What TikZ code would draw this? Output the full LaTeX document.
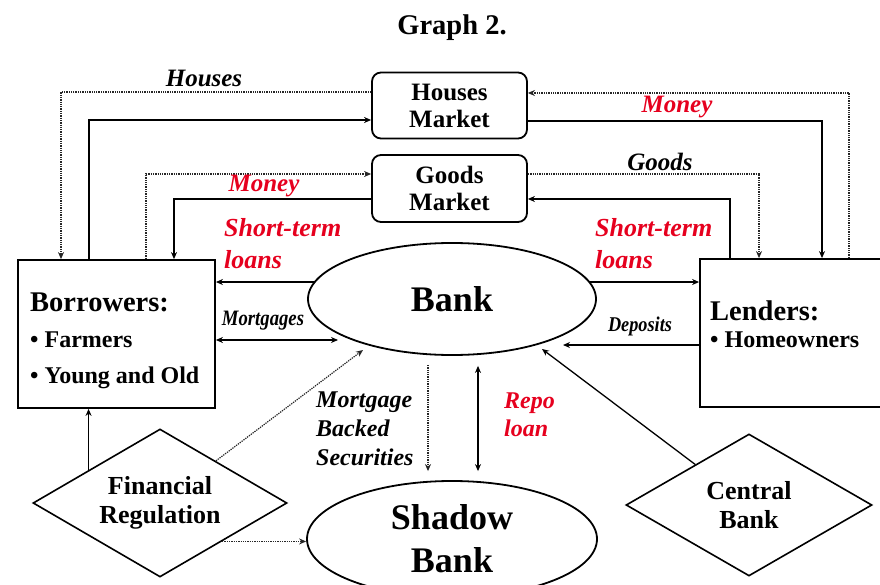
\documentclass[tikz,border=0pt]{standalone}
\usepackage{fontspec}
\usepackage{graphicx}
\setmainfont{Liberation Serif}
\usetikzlibrary{arrows.meta,shapes.geometric,calc}
\definecolor{lblred}{RGB}{230,0,30}
\newcommand{\fsz}[2]{\fontsize{#1}{#2}\selectfont}
\begin{document}
\begin{tikzpicture}[x=1pt,y=-1pt,
  box/.style={draw,line width=1.8pt,inner sep=0pt},
  mkt/.style={box,rounded corners=9pt,minimum width=155pt,minimum height=66pt,align=center,font=\bfseries\fsz{25}{27}},
  oval/.style={draw,line width=1.8pt,ellipse,inner sep=0pt,align=center,font=\bfseries\fsz{36}{43}},
  dia/.style={draw,line width=1.6pt,diamond,inner sep=0pt,aspect=1.7,align=center,font=\bfseries\fsz{26}{29}},
  conn/.style={line width=1.3pt,-{Stealth[length=7pt,width=6pt]}},
  dconn/.style={line width=1.3pt,{Stealth[length=7pt,width=6pt]}-{Stealth[length=7pt,width=6pt]}},
  dots/.style={line width=1.2pt,dash pattern=on 1.3pt off 1pt,draw=black!85,-{Stealth[length=7pt,width=6pt]}},
  lbl/.style={font=\bfseries\itshape\fsz{25}{32},inner sep=0pt,align=left},
  redlbl/.style={lbl,text=lblred},
  txt/.style={inner sep=0pt,anchor=base west,font=\bfseries}
]
\useasboundingbox (0,0) rectangle (880,585);

% title
\node[font=\bfseries\fsz{28.5}{30}] (title) at (452,28) {Graph 2.};

% markets
\node[mkt] (hm) at (449.5,105.5) {Houses\\Market};
\node[mkt,minimum height=67pt] (gm) at (449.5,188.5) {Goods\\Market};

% agents
\node[box,minimum width=197pt,minimum height=148pt] (bor) at (116.5,334) {};
\node[txt,font=\bfseries\fsz{28.5}{30}] (bortxt1) at (30,311) {Borrowers:};
\node[txt,font=\bfseries\fsz{24}{26}] (bortxt2) at (30,347) {\textbullet\ Farmers};
\node[txt,font=\bfseries\fsz{24}{26}] (bortxt3) at (30,383) {\textbullet\ Young and Old};
\node[box,minimum width=190pt,minimum height=148pt] (lend) at (795,333) {};
\node[txt,font=\bfseries\fsz{28.5}{30}] (lendtxt1) at (710,320) {Lenders:};
\node[txt,font=\bfseries\fsz{24}{26}] (lendtxt2) at (710,347) {\textbullet\ Homeowners};

% banks
\node[oval,minimum width=288pt,minimum height=112pt] (bank) at (452,299) {Bank};
\node[oval,minimum width=290pt,minimum height=116pt] (sb) at (452,539) {Shadow\\Bank};

% diamonds
\node[dia,minimum width=254pt,minimum height=148pt] (fr) at (160,503) {Financial\\Regulation};
\node[dia,minimum width=246pt,minimum height=142pt] (cb) at (749,505) {Central\\Bank};

% left market flows
\draw[dots] (hm.west |- 0,92) -| (bor.north -| 61,0);
\draw[conn] (bor.north -| 89,0) |- (hm.west |- 0,120);
\draw[dots] (bor.north -| 146,0) |- (gm.west |- 0,174);
\draw[conn] (gm.west |- 0,199) -| (bor.north -| 174,0);

% right market flows
\draw[dots] (lend.north -| 849,0) |- (hm.east |- 0,93);
\draw[conn] (hm.east |- 0,121) -| (lend.north -| 822,0);
\draw[dots] (gm.east |- 0,174) -| (lend.north -| 759,0);
\draw[conn] (lend.north -| 730,0) |- (gm.east |- 0,199);

% bank flows
\draw[conn] (bank.173) -- (bor.east |- bank.173);
\draw[conn] (bank.7) -- (lend.west |- bank.7);
\coordinate (mortend) at (338,340);
\draw[dconn] (bor.east |- mortend) -- (mortend);
\coordinate (depend) at (563,345);
\draw[conn] (lend.west |- depend) -- (depend);

% bank <-> shadow bank
\draw[dots] ([shift={(-24,9)}]bank.south) -- ([shift={(-24,-9)}]sb.north);
\draw[dconn] ([shift={(26,10)}]bank.south) -- ([shift={(26,-9)}]sb.north);

% regulation
\coordinate (frbank) at (363,350);
\draw[dots] (fr) -- (frbank);
\coordinate (frtop) at ($(fr.west)!0.441!(fr.north)$);
\draw[line width=1pt,-{Stealth[length=7pt,width=6pt]}] (frtop) -- (frtop |- bor.south);
\coordinate (frbot) at ($(fr.east)!0.514!(fr.south)$);
\draw[dots] (frbot) -- (frbot -| sb.west);

% central bank
\coordinate (cbbank) at (542,349);
\draw[conn] (cb) -- (cbbank);

% labels
\node[lbl] (lhouses) at (204,78) {Houses};
\node[redlbl] (lmoney1) at (677,107) {Money};
\node[lbl] (lgoods) at (660,162) {Goods};
\node[redlbl] (lmoney2) at (264,186) {Money};
\node[redlbl,font=\bfseries\itshape\fsz{26}{32},anchor=west] (lstl) at (224,244) {Short-term\\loans};
\node[redlbl,font=\bfseries\itshape\fsz{26}{32},anchor=west] (lstr) at (595,244) {Short-term\\loans};
\node[lbl,font=\bfseries\itshape\fsz{22}{24}] (lmort) at (263,321) {\scalebox{0.85}[1]{Mortgages}};
\node[lbl,font=\bfseries\itshape\fsz{21}{24}] (ldep) at (640,326) {\scalebox{0.87}[1]{Deposits}};
\node[lbl,font=\bfseries\itshape\fsz{24}{29},anchor=west] (lmbs) at (316,429) {Mortgage\\Backed\\Securities};
\node[redlbl,font=\bfseries\itshape\fsz{24}{28},anchor=west] (lrepo) at (504,415) {Repo\\loan};
\end{tikzpicture}
\end{document}
